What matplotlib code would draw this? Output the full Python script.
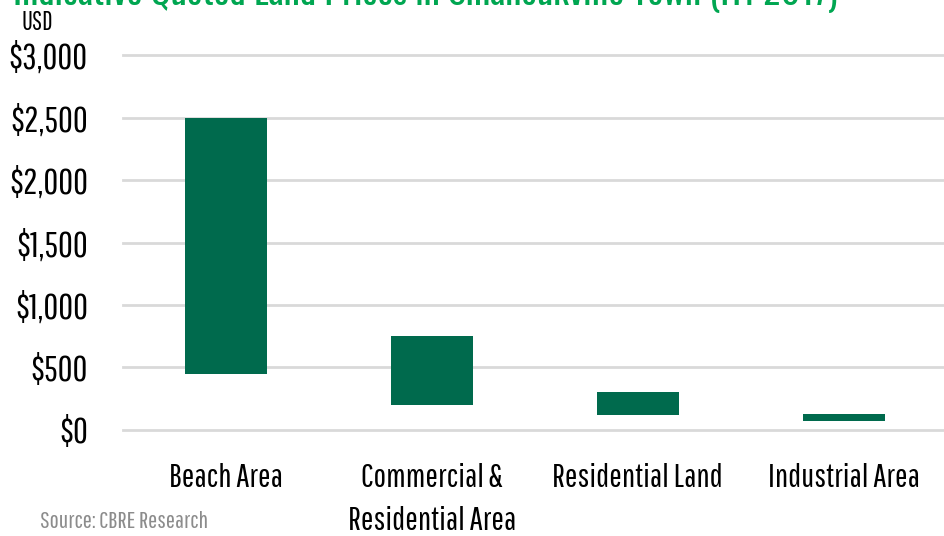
import matplotlib.pyplot as plt
import matplotlib.ticker as mticker

# Floating bars: low / high quoted land price (USD per sqm)
categories = ["Beach Area", "Commercial &\nResidential Area", "Residential Land", "Industrial Area"]
price_low = [450, 200, 120, 70]
price_high = [2500, 750, 300, 130]
y_ticks = [0, 500, 1000, 1500, 2000, 2500, 3000]

title = "Indicative Quoted Land Prices in Sihanoukville Town (H1 2017)"
bar_color = "#006A4D"
font = ["Pathway Gothic One", "DejaVu Sans"]

plt.rcParams["font.family"] = font

fig = plt.figure(figsize=(9.44, 5.36), dpi=100)
ax = fig.add_axes([0.130, 0.198, 0.873, 0.699])

x = range(len(categories))
heights = [h - l for l, h in zip(price_low, price_high)]
ax.bar(x, heights, bottom=price_low, width=0.4, color=bar_color, zorder=3)

ax.set_xlim(-0.5, len(categories) - 0.5)
ax.set_ylim(0, 3000)
ax.set_yticks(y_ticks)
ax.yaxis.set_major_formatter(mticker.FuncFormatter(lambda v, p: f"${v:,.0f}"))
ax.set_xticks(list(x))
ax.set_xticklabels(categories, fontsize=24, linespacing=1.55, va="top")
ax.tick_params(axis="y", labelsize=26, length=0, pad=25)
ax.tick_params(axis="x", length=0, pad=24)

ax.grid(axis="y", color="#d9d9d9", linewidth=2, zorder=0)
for gl in ax.get_ygridlines():
    gl.set_clip_on(False)
for s in ax.spines.values():
    s.set_visible(False)

fig.text(0.014, 1 - 5 / 536, title, color="#00A651", fontsize=26.5, fontweight="bold",
         family=["Oswald", "DejaVu Sans"], ha="left", va="baseline")
fig.text(0.023, 1 - 30 / 536, "USD", fontsize=18.5, ha="left", va="baseline")
fig.text(0.042, 0.008, "Source: CBRE Research", fontsize=17.5, color="#8c8c8c",
         ha="left", va="bottom")

fig.savefig("out.png", dpi=100)
